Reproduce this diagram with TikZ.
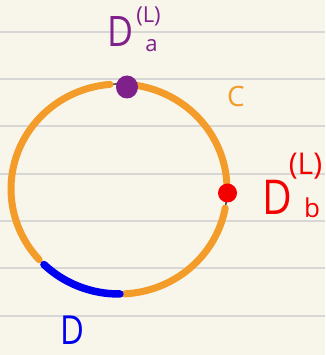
\documentclass[tikz,border=0pt]{standalone}
\usepackage{fontspec}
\setmainfont{Open Sans}
\definecolor{paper}{RGB}{248,246,235}
\definecolor{rule}{RGB}{215,215,213}
\definecolor{corange}{RGB}{243,156,42}
\definecolor{cpurple}{RGB}{128,32,138}
\definecolor{cred}{RGB}{245,0,0}
\definecolor{cblue}{RGB}{0,0,240}
\tikzset{
  ruleline/.style={draw=rule, line width=1.6pt},
  orangearc/.style={draw=corange, line width=7pt, line cap=round},
  bluearc/.style={draw=cblue, line width=7.5pt, line cap=round},
  lbl/.style={inner sep=0pt, anchor=center},
}
\newcommand{\fs}[1]{\fontsize{#1}{#1}\selectfont}
\begin{document}
\begin{tikzpicture}[x=1pt,y=1pt]
\fill[paper] (0,0) rectangle (325,355);
\useasboundingbox (0,0) rectangle (325,355);
\foreach \yy in {323,276,229,181,134,87,39}
  \draw[ruleline] (0,\yy) -- (325,\yy);
\coordinate (c) at (119,166);
% base black circle
\draw[black, line width=1.2pt] (c) ellipse [x radius=108, y radius=105];
% orange arcs
\draw[orangearc] (c) ++(3.3:108 and 105) arc[start angle=3.3, end angle=80.5, x radius=108, y radius=105];
\draw[orangearc] (c) ++(94.8:108 and 105) arc[start angle=94.8, end angle=222.4, x radius=108, y radius=105];
\draw[orangearc] (c) ++(273:108 and 105) arc[start angle=273, end angle=349.5, x radius=108, y radius=105];
% blue arc
\draw[bluearc] (c) ++(226:108 and 105) arc[start angle=226, end angle=270.5, x radius=108, y radius=105];
% dots
\fill[cpurple] (127,268) ellipse [x radius=11, y radius=11.5];
\fill[cred] (227.5,162) ellipse [x radius=9.5, y radius=9.5];
% labels
\node[lbl, text=cpurple, xscale=0.85] (da) at (121,323) {\fs{42}D};
\node[lbl, text=cpurple] (dal) at (148.5,339) {\fs{22}(L)};
\node[lbl, text=cpurple] (daa) at (151.5,309) {\fs{22}a};
\node[lbl, text=corange] (cl) at (236,258) {\fs{28}C};
\node[lbl, text=cred, xscale=0.85] (db) at (277,158) {\fs{48}D};
\node[lbl, text=cred] (dbl) at (305.5,189) {\fs{30}(L)};
\node[lbl, text=cred] (dbb) at (312,147) {\fs{26}b};
\node[lbl, text=cblue, xscale=0.82] (dd) at (72.5,25) {\fs{40}D};
\end{tikzpicture}
\end{document}
